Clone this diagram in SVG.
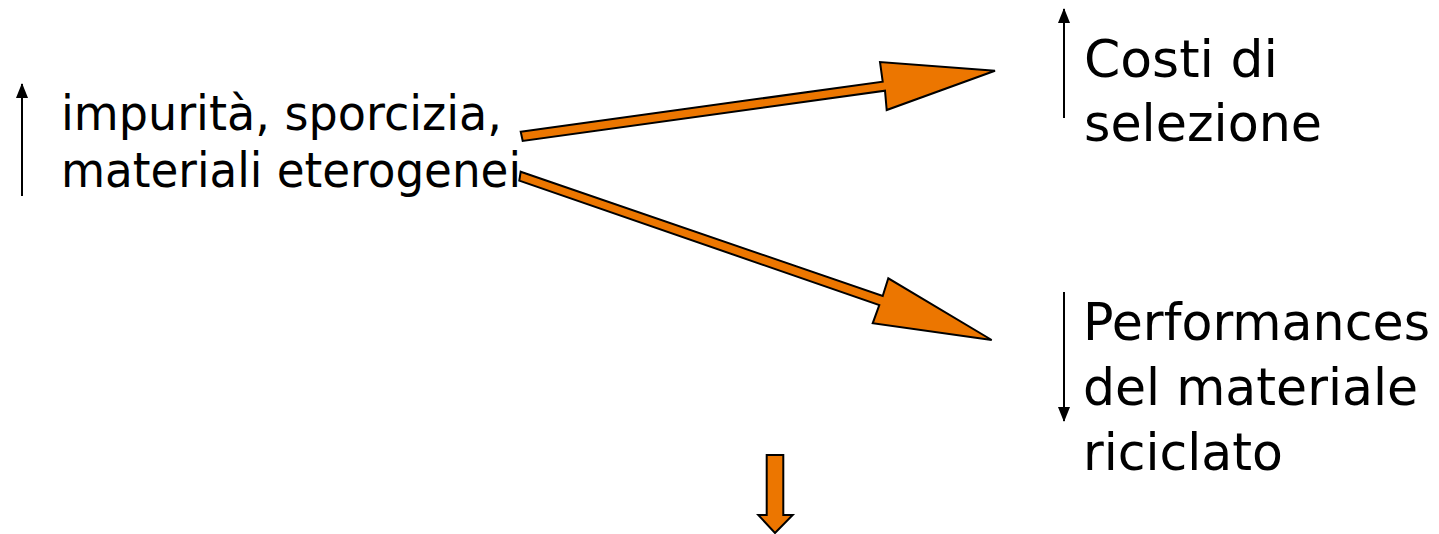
<svg xmlns="http://www.w3.org/2000/svg" width="1439" height="534" viewBox="0 0 1439 534">
  <style>
    .lbl { font-family: "DejaVu Sans", Verdana, sans-serif; fill: #000; }
    .big { font-size: 52px; }
    .small { font-size: 48px; }
    .thin { stroke: #000; stroke-width: 2; fill: none; }
    .block { fill: #EC7600; stroke: #000; stroke-width: 2; stroke-linejoin: miter; }
  </style>
  <defs>
    <marker id="ah" viewBox="0 0 15 12" refX="14" refY="6" markerWidth="15" markerHeight="12" markerUnits="userSpaceOnUse" orient="auto">
      <path d="M0,0 L15,6 L0,12 Z" fill="#000"/>
    </marker>
  </defs>
  <rect width="1439" height="534" fill="#fff"/>

  <g id="node-impurita">
    <line class="thin" x1="22" y1="196" x2="22" y2="84" marker-end="url(#ah)"/>
    <text class="lbl small" x="61" y="130" textLength="441" lengthAdjust="spacingAndGlyphs">impurità, sporcizia,</text>
    <text class="lbl small" x="61" y="187" textLength="460" lengthAdjust="spacingAndGlyphs">materiali eterogenei</text>
  </g>

  <g id="node-costi">
    <line class="thin" x1="1064" y1="118" x2="1064" y2="9" marker-end="url(#ah)"/>
    <text class="lbl big" x="1084" y="77" textLength="194" lengthAdjust="spacingAndGlyphs">Costi di</text>
    <text class="lbl big" x="1084" y="141" textLength="238" lengthAdjust="spacingAndGlyphs">selezione</text>
  </g>

  <g id="node-performances">
    <line class="thin" x1="1064" y1="292" x2="1064" y2="421" marker-end="url(#ah)"/>
    <text class="lbl big" x="1083" y="340" textLength="347" lengthAdjust="spacingAndGlyphs">Performances</text>
    <text class="lbl big" x="1083" y="405" textLength="335" lengthAdjust="spacingAndGlyphs">del materiale</text>
    <text class="lbl big" x="1083" y="470" textLength="200" lengthAdjust="spacingAndGlyphs">riciclato</text>
  </g>

  <g id="connectors">
    <polygon class="block" points="520.7,131.7 882.7,81.7 880,62 995,70.7 886.7,110 885,90.7 522.7,141"/>
    <polygon class="block" points="520.7,171.7 882.7,296 888.3,278.3 991.7,340 872.7,323.3 879.3,305 519.3,180.7"/>
    <polygon class="block" points="766.7,455 783.3,455 783.3,515 792.7,515 775,533 758.3,515 766.7,515"/>
  </g>
</svg>
